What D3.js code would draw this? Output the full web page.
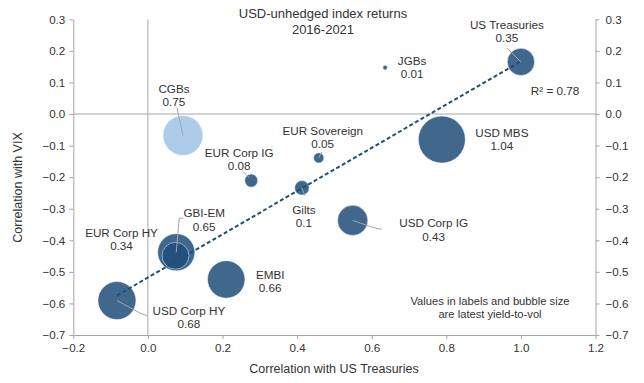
<!DOCTYPE html>
<html>
<head>
<meta charset="utf-8">
<script src="https://cdn.jsdelivr.net/npm/d3@7"></script>
<style>
  body { margin: 0; background: #fff; }
  text { font-family: "Liberation Sans", Arial, sans-serif; fill: #333; }
</style>
</head>
<body>
<div id="chart-area"></div>
<script>
// bubble data: correlation with UST, correlation with VIX, yield-to-vol
const names = ["CGBs", "EUR Corp IG", "Gilts", "EUR Sovereign", "JGBs", "US Treasuries",
               "USD MBS", "USD Corp IG", "GBI-EM", "EUR Corp HY", "EMBI", "USD Corp HY"];
const corrUST = [0.094, 0.277, 0.413, 0.458, 0.636, 1.0, 0.788, 0.549, 0.076, 0.074, 0.21, -0.083];
const corrVIX = [-0.068, -0.211, -0.234, -0.139, 0.147, 0.165, -0.081, -0.337, -0.438, -0.449, -0.524, -0.591];
const yieldToVol = [0.75, 0.08, 0.1, 0.05, 0.01, 0.35, 1.04, 0.43, 0.65, 0.34, 0.66, 0.68];
const valueLabels = ["0.75", "0.08", "0.1", "0.05", "0.01", "0.35", "1.04", "0.43", "0.65", "0.34", "0.66", "0.68"];

// trendline end points as drawn (x, y)
const trendX = [-0.083, 1.0];
const trendY = [-0.575, 0.167];

const xTicks = [-0.2, 0, 0.2, 0.4, 0.6, 0.8, 1.0, 1.2];
const yTicks = [0.3, 0.2, 0.1, 0, -0.1, -0.2, -0.3, -0.4, -0.5, -0.6, -0.7];

// label placement, pixel offsets from bubble centre
const labelPos = {
  "CGBs": { dx: -9, dy: -47, leader: [[-6, -28], [0, 0]] },
  "EUR Corp IG": { dx: -12, dy: -28, leader: [[-8, -9], [-2, -3]] },
  "Gilts": { dx: 2, dy: 22, leader: [[0, 0], [3, 8]] },
  "EUR Sovereign": { dx: 4, dy: -27, leader: [[0, 0], [3, -6]] },
  "JGBs": { dx: 27, dy: -7 },
  "US Treasuries": { dx: -14, dy: -37, leader: [[-14, -14], [0, 0]] },
  "USD MBS": { dx: 60, dy: -7 },
  "USD Corp IG": { dx: 81, dy: 3, leader: [[0, 0], [20, 7], [29, 9]] },
  "GBI-EM": { dx: 28, dy: -39, leader: [[0, 0], [3, -34], [7, -34]] },
  "EUR Corp HY": { dx: -54, dy: -23 },
  "EMBI": { dx: 44, dy: -5 },
  "USD Corp HY": { dx: 72, dy: 10, leader: [[0, 0], [24, 13], [30, 15]] }
};

const w = 644, h = 383;
const plotL = 73.3, plotR = 595.5, plotT = 19.3, plotB = 335;

const svg = d3.select("#chart-area").append("svg")
  .attr("width", w).attr("height", h);

const x = d3.scaleLinear().domain([-0.2, 1.2]).range([plotL, plotR]);
const y = d3.scaleLinear().domain([-0.7, 0.3]).range([plotB, plotT]);
const r = d3.scaleSqrt().domain([0, 1.04]).range([0, 23.5]);

const fmt = d3.format(".1f");
const axisColor = "#a6a6a6";

// zero lines
svg.append("line").attr("x1", x(0)).attr("x2", x(0)).attr("y1", plotT).attr("y2", plotB)
  .attr("stroke", axisColor).attr("stroke-width", 1);
svg.append("line").attr("x1", plotL).attr("x2", plotR).attr("y1", y(0)).attr("y2", y(0))
  .attr("stroke", axisColor).attr("stroke-width", 1);

function styleAxis(g) {
  g.select(".domain").attr("stroke", axisColor);
  g.selectAll(".tick line").attr("stroke", axisColor);
  g.selectAll(".tick text").style("font-size", "11.6px").attr("fill", "#333")
    .style("font-family", '"Liberation Sans", Arial, sans-serif');
}

svg.append("g").attr("transform", `translate(0,${plotB})`)
  .call(d3.axisBottom(x).tickValues(xTicks).tickFormat(fmt).tickSize(4).tickSizeOuter(0).tickPadding(5))
  .call(styleAxis);
svg.append("g").attr("transform", `translate(${plotL},0)`)
  .call(d3.axisLeft(y).tickValues(yTicks).tickFormat(fmt).tickSize(4).tickSizeOuter(0).tickPadding(4))
  .call(styleAxis);
svg.append("g").attr("transform", `translate(${plotR},0)`)
  .call(d3.axisRight(y).tickValues(yTicks).tickFormat(fmt).tickSize(4).tickSizeOuter(0).tickPadding(6))
  .call(styleAxis);

// bubbles
const pts = names.map((n, i) => ({ name: n, x: corrUST[i], y: corrVIX[i], v: yieldToVol[i], lab: valueLabels[i] }));

svg.append("g").selectAll("circle")
  .data(pts)
  .enter()
  .append("circle")
  .attr("cx", d => x(d.x))
  .attr("cy", d => y(d.y))
  .attr("r", d => r(d.v))
  .attr("fill", d => d.name === "CGBs" ? "#9dc3e6" : "#1f4e79")
  .attr("fill-opacity", 0.85)
  .attr("stroke", "#ffffff")
  .attr("stroke-opacity", 0.6)
  .attr("stroke-width", 0.8);

// trendline
svg.append("line")
  .attr("x1", x(trendX[0])).attr("y1", y(trendY[0]))
  .attr("x2", x(trendX[1])).attr("y2", y(trendY[1]))
  .attr("stroke", "#1f4e79").attr("stroke-width", 2).attr("stroke-dasharray", "4,2.5");

// leader lines
const line = d3.line();
pts.forEach(d => {
  const p = labelPos[d.name];
  if (!p.leader) return;
  const cx = x(d.x), cy = y(d.y);
  svg.append("path")
    .attr("d", line(p.leader.map(q => [cx + q[0], cy + q[1]])))
    .attr("fill", "none").attr("stroke", "#a6a6a6").attr("stroke-width", 1);
});

// bubble labels
const labels = svg.append("g").selectAll("text")
  .data(pts)
  .enter()
  .append("text")
  .attr("text-anchor", "middle")
  .style("font-size", "11.7px")
  .attr("x", d => x(d.x) + labelPos[d.name].dx)
  .attr("y", d => y(d.y) + labelPos[d.name].dy);
labels.append("tspan").attr("x", d => x(d.x) + labelPos[d.name].dx).attr("dy", "0.35em").text(d => d.name);
labels.append("tspan").attr("x", d => x(d.x) + labelPos[d.name].dx).attr("dy", 13.3).text(d => d.lab);

// title
svg.append("text").attr("x", 323).attr("y", 18).attr("text-anchor", "middle")
  .style("font-size", "13px").text("USD-unhedged index returns");
svg.append("text").attr("x", 323).attr("y", 34).attr("text-anchor", "middle")
  .style("font-size", "13px").text("2016-2021");

// R squared
svg.append("text").attr("x", 555).attr("y", 95).attr("text-anchor", "middle")
  .style("font-size", "11.7px").text("R² = 0.78");

// note
svg.append("text").attr("x", 490).attr("y", 305).attr("text-anchor", "middle")
  .style("font-size", "11.2px").text("Values in labels and bubble size");
svg.append("text").attr("x", 490).attr("y", 318).attr("text-anchor", "middle")
  .style("font-size", "11.2px").text("are latest yield-to-vol");

// axis titles
svg.append("text").attr("x", 334).attr("y", 373).attr("text-anchor", "middle")
  .style("font-size", "12.5px").text("Correlation with US Treasuries");
svg.append("text").attr("transform", "translate(22,187.5) rotate(-90)").attr("text-anchor", "middle")
  .style("font-size", "12.5px").text("Correlation with VIX");
</script>
</body>
</html>
